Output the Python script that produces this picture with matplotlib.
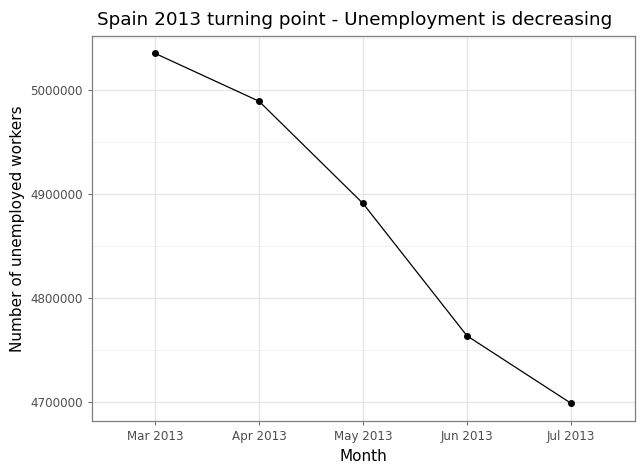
import numpy as np
import matplotlib
matplotlib.use('Agg')
import matplotlib.pyplot as plt

# data
months = ['Mar 2013', 'Apr 2013', 'May 2013', 'Jun 2013', 'Jul 2013']
unemployed = [5035243, 4989193, 4890928, 4763680, 4698814]
y_ticks = [4700000, 4800000, 4900000, 5000000]

x = np.arange(len(months))

fig = plt.figure(figsize=(6.44, 4.72), dpi=100)
ax = fig.add_axes([0.1429, 0.108, 0.843, 0.8157])

ax.plot(x, unemployed, color='black', lw=0.9, zorder=3)
ax.scatter(x, unemployed, color='black', s=16, zorder=4)

ax.set_xlim(-0.606, 4.615)
ax.set_ylim(4681731, 5051923)
ax.set_xticks(x)
ax.set_xticklabels(months)
ax.set_yticks(y_ticks)
ax.set_yticklabels([str(v) for v in y_ticks])
ax.set_yticks([4750000, 4850000, 4950000, 5050000], minor=True)

ax.grid(which='major', color='#e6e6e6', lw=1.0)
ax.grid(which='minor', axis='y', color='#f2f2f2', lw=0.7)
ax.set_axisbelow(True)
ax.tick_params(axis='both', which='major', labelsize=8.6, colors='#4d4d4d', length=3, width=0.6)
ax.tick_params(axis='both', which='minor', length=0)
for s in ax.spines.values():
    s.set_color('#7f7f7f')
    s.set_linewidth(0.9)

ax.set_xlabel('Month', fontsize=11)
ax.set_ylabel('Number of unemployed workers', fontsize=11)
# plotnine centres the title a little left of the panel centre
ax.set_title('Spain 2013 turning point - Unemployment is decreasing', fontsize=13.2, pad=8, x=0.4834)

plt.savefig('out.png')
